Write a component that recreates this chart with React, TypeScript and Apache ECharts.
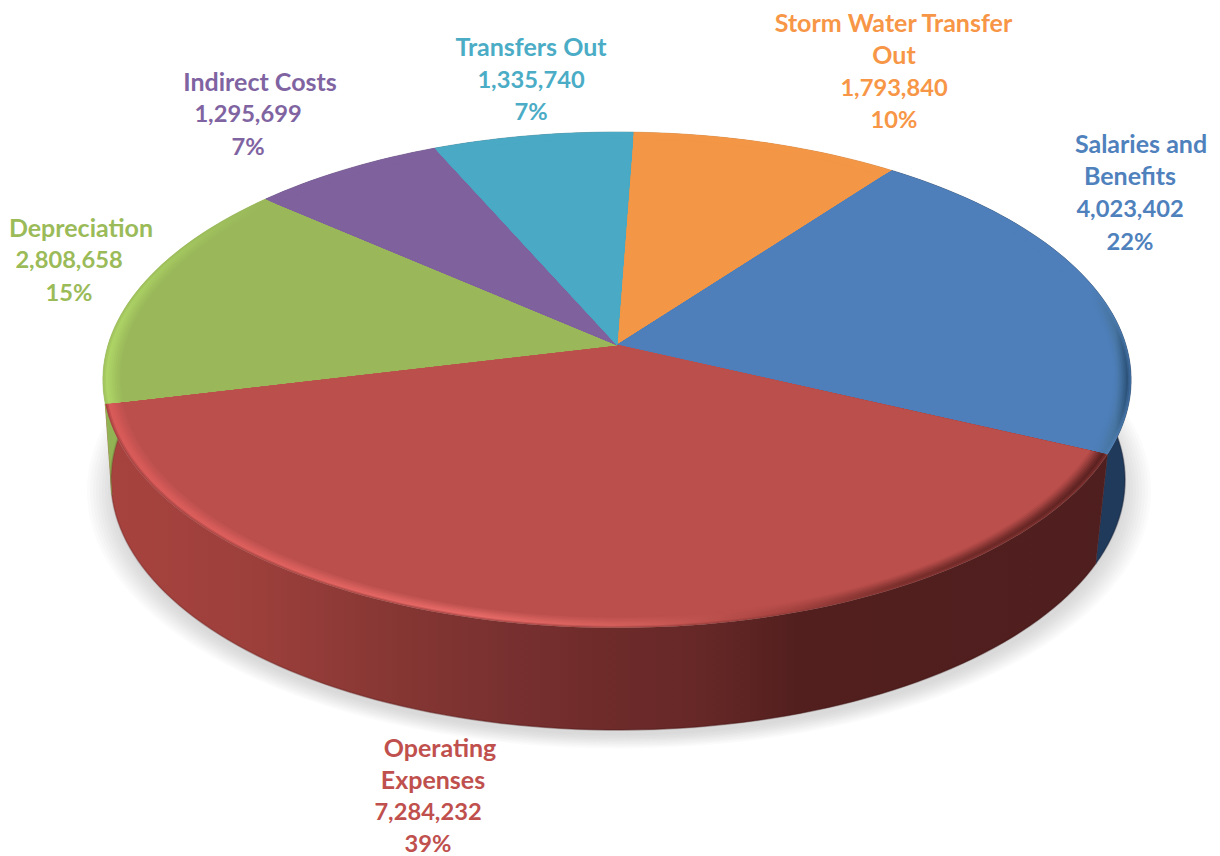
import React, { useEffect, useRef } from "react";
import * as echarts from "echarts";

// Budget shares, clockwise from the top of the disc.
const categories = [
  "Storm Water Transfer Out",
  "Salaries and Benefits",
  "Operating Expenses",
  "Depreciation",
  "Indirect Costs",
  "Transfers Out",
];
const amounts = [1793840, 4023402, 7284232, 2808658, 1295699, 1335740];
const nameLines = [
  ["Storm Water Transfer", "Out"],
  ["Salaries and", "Benefits"],
  ["Operating", "Expenses"],
  ["Depreciation"],
  ["Indirect Costs"],
  ["Transfers Out"],
];

const faceColors = ["#f39645", "#4e7fba", "#bb4f4c", "#9ab85a", "#7f619d", "#4aa9c4"];
const textColors = ["#f79646", "#4f81bd", "#c0504d", "#9bbb59", "#8064a2", "#4bacc6"];
const wallColors = ["#c9772f", "#1f3a5b", "#7a2f2d", "#92b354", "#5f4879", "#32798e"];
const edgeTints = ["#f39645", "#4e7fba", "#8a3634", "#9ab85a", "#7f619d", "#4aa9c4"];

// Stops of the horizontal shading, as [x in pixels, colour].
type Stop = [number, string];
const SHADE_LEFT = 103;
const SHADE_RIGHT = 1131;
const redWallShade: Stop[] = [
  [103, "#a8433f"],
  [260, "#9c3f3b"],
  [400, "#853633"],
  [500, "#793130"],
  [600, "#6e2b2a"],
  [700, "#662827"],
  [800, "#521f1e"],
  [1131, "#4f1e1e"],
];
const rimShades: Stop[][] = [
  [[103, "#f39645"], [1131, "#f39645"]],
  [[103, "#4e7fba"], [1090, "#4e7fba"], [1115, "#46749f"], [1131, "#24486e"]],
  [[103, "#d85a58"], [300, "#df625f"], [480, "#e66a67"], [640, "#d05c58"], [780, "#a84441"], [900, "#7a2f2c"], [1131, "#571f1e"]],
  [[103, "#aed566"], [170, "#a4c85f"], [260, "#9ab85a"], [1131, "#9ab85a"]],
  [[103, "#7f619d"], [1131, "#7f619d"]],
  [[103, "#4aa9c4"], [1131, "#4aa9c4"]],
];

// Nested copies of each slice, outermost first. The second number moves the colour
// towards the face colour when positive and towards the edge tint when negative.
const rimLayers: [number, number][] = [
  [1, -0.6],
  [0.997, -0.3],
  [0.994, 0],
  [0.99, 0.1],
  [0.986, 0.25],
  [0.982, 0.42],
  [0.978, 0.6],
  [0.974, 0.76],
  [0.97, 0.9],
  [0.966, 1],
];

// Centre point of every label line; one entry per text line of a category.
const labelCentres: [number, number][][] = [
  [[893.5, 22], [894, 54], [894, 87], [894, 119]],
  [[1141, 143], [1130, 175], [1130, 208], [1130, 241]],
  [[440, 747], [433, 779], [428, 811], [428, 842.5]],
  [[81, 227], [69, 259], [69, 292]],
  [[260, 81], [248, 113], [248, 146]],
  [[531, 46], [531, 79], [531, 111]],
];

const START_ANGLE = 2.1;
const BASE_TURN = 2;
const TILT = 0.141;
const TOP_DISC = { cx: 617, cy: 345, a: 509, b: 243 };
const BASE_DISC = { cx: 618, cy: 444.8, a: 502, b: 245 };
const total = amounts.reduce((s, v) => s + v, 0);

type Disc = typeof TOP_DISC;

// Perspective projection of a point on a disc; angle runs clockwise from twelve o'clock.
function project(disc: Disc, deg: number, r: number): number[] {
  const t = (deg * Math.PI) / 180;
  const X = r * Math.sin(t);
  const Y = -r * Math.cos(t);
  const w = 1 - TILT * Y;
  return [disc.cx + (disc.a * X) / w, disc.cy + (disc.b * Y) / w];
}

function arc(disc: Disc, from: number, to: number, r: number): number[][] {
  const n = Math.max(2, Math.ceil((to - from) / 1.5));
  const out: number[][] = [];
  for (let i = 0; i <= n; i++) out.push(project(disc, from + ((to - from) * i) / n, r));
  return out;
}

function sliceRange(index: number, value: number): [number, number] {
  let before = 0;
  for (let i = 0; i < index; i++) before += amounts[i];
  const from = START_ANGLE + (before / total) * 360;
  return [from, from + (value / total) * 360];
}

function mix(a: string, b: string, f: number): string {
  const pa = [1, 3, 5].map((i) => parseInt(a.slice(i, i + 2), 16));
  const pb = [1, 3, 5].map((i) => parseInt(b.slice(i, i + 2), 16));
  const c = pa.map((v, i) => Math.round(v + (pb[i] - v) * f));
  return `rgb(${c[0]},${c[1]},${c[2]})`;
}

function horizontalShade(stops: Stop[], target: string | null, f: number) {
  const span = SHADE_RIGHT - SHADE_LEFT;
  return new echarts.graphic.LinearGradient(
    SHADE_LEFT,
    0,
    SHADE_RIGHT,
    0,
    stops.map(([x, c]) => ({
      offset: (x - SHADE_LEFT) / span,
      color: target ? mix(c, target, f) : c,
    })),
    true
  );
}

function renderWall(params: any, api: any) {
  const i = params.dataIndex;
  const [from, to] = sliceRange(i, api.value(0));
  const upper = arc(TOP_DISC, from, to, 1);
  const lower = arc(BASE_DISC, from + BASE_TURN, to + BASE_TURN, 1);
  const fill = i === 2 ? horizontalShade(redWallShade, null, 0) : wallColors[i];
  return {
    type: "group",
    children: [
      {
        type: "polygon",
        shape: { points: upper.concat(lower.slice().reverse()) },
        style: { fill, stroke: fill, lineWidth: 0.5 },
      },
      {
        type: "polyline",
        shape: { points: lower },
        style: { fill: "none", stroke: "rgba(30,0,0,0.14)", lineWidth: 2 },
      },
    ],
  };
}

function renderFace(params: any, api: any) {
  const i = params.dataIndex;
  const [from, to] = sliceRange(i, api.value(0));
  const face = faceColors[i];
  const apex = project(TOP_DISC, 0, 0);
  return {
    type: "group",
    children: rimLayers.map(([r, f]) => {
      const fill =
        f === 1
          ? face
          : f < 0
          ? horizontalShade(rimShades[i], edgeTints[i], -f)
          : horizontalShade(rimShades[i], face, f);
      return {
        type: "polygon",
        shape: { points: [apex].concat(arc(TOP_DISC, from, to, r)) },
        style: { fill, stroke: f === 1 ? face : undefined, lineWidth: f === 1 ? 0.6 : 0 },
      };
    }),
  };
}

function renderLabel(params: any, api: any) {
  const i = params.dataIndex;
  const value = api.value(0);
  const names = nameLines[i];
  const lines = names.concat([
    value.toLocaleString("en-US"),
    `${Math.round((value / total) * 100)}%`,
  ]);
  return {
    type: "group",
    children: lines.map((line, n) => ({
      type: "text",
      x: labelCentres[i][n][0],
      y: labelCentres[i][n][1],
      style: {
        text: line,
        fill: textColors[i],
        font: `bold ${n < names.length ? 25 : 23.7}px Lato, "Open Sans", sans-serif`,
        textAlign: "center",
        textVerticalAlign: "middle",
      },
    })),
  };
}

// Soft cast shadow under the disc, built from stacked translucent ellipses.
const shadowSteps = [27, 24, 21, 18, 15, 12, 9, 6, 3, 0];
const shadowElements = shadowSteps.map((grow) => ({
  type: "ellipse",
  shape: { cx: 619, cy: 491, rx: 505 + grow, ry: 244 + grow * 0.5 },
  style: { fill: "#8f9696", opacity: 0.035 },
  silent: true,
}));

export default function App() {
  const ref = useRef<HTMLDivElement>(null);
  useEffect(() => {
    const chart = echarts.init(ref.current!, undefined, { renderer: "svg" });
    const data = amounts.map((v, i) => ({ name: categories[i], value: [v] }));
    chart.setOption({
      animation: false,
      backgroundColor: "#ffffff",
      graphic: { elements: shadowElements },
      series: [
        { type: "custom", coordinateSystem: "none", z: 2, data, renderItem: renderWall, silent: true },
        { type: "custom", coordinateSystem: "none", z: 3, data, renderItem: renderFace, silent: true },
        { type: "custom", coordinateSystem: "none", z: 4, data, renderItem: renderLabel, silent: true },
      ],
    });
    return () => chart.dispose();
  }, []);
  return <div ref={ref} style={{ position: "fixed", left: 0, top: 0, width: 1220, height: 856 }} />;
}
